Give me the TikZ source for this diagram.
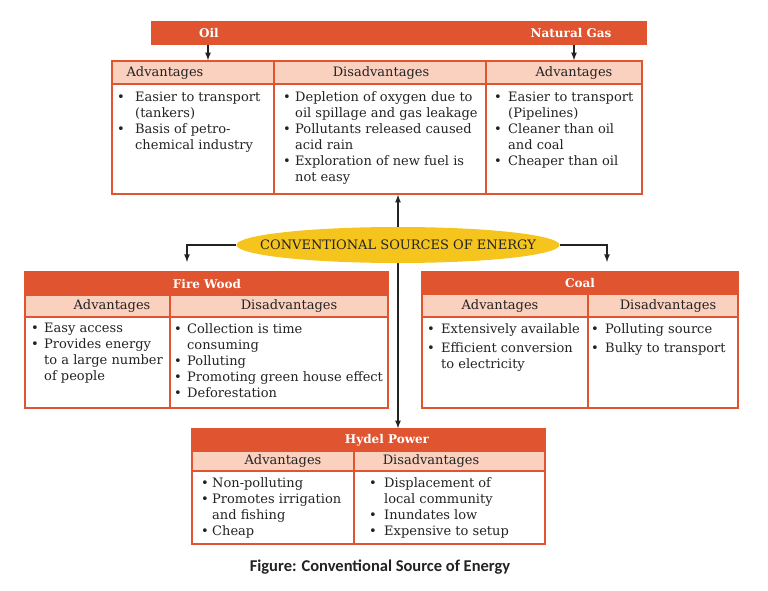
\documentclass[tikz,border=0pt]{standalone}
\usepackage{fontspec}
\setmainfont{DejaVu Serif}
\newfontfamily\capfont{Carlito}
\usepackage{tikz}
\usetikzlibrary{shapes.geometric}
\pgfdeclarelayer{edgelayer}
\pgfdeclarelayer{nodelayer}
\pgfsetlayers{edgelayer,nodelayer,main}
\definecolor{banner}{RGB}{224,84,48}
\definecolor{rowpink}{RGB}{250,208,190}
\definecolor{sunyellow}{RGB}{245,197,30}
\definecolor{ink}{RGB}{35,35,35}
\newlength{\bw}
\tikzstyle{none}=[inner sep=0pt]
\tikzstyle{title}=[rectangle, fill=banner, draw=banner, line width=1.5pt, inner sep=0pt]
\tikzstyle{head}=[rectangle, fill=rowpink, draw=banner, line width=1.5pt, inner sep=0pt]
\tikzstyle{cell}=[rectangle, fill=white, draw=banner, line width=1.5pt, inner sep=0pt]
\tikzstyle{titletext}=[inner sep=0pt, text=white, font=\fontsize{12}{14}\selectfont\bfseries]
\tikzstyle{headtext}=[inner sep=0pt, text=ink, font=\fontsize{13}{16}\selectfont]
\tikzstyle{body}=[inner sep=0pt, anchor=north west, align=left, text=ink, font=\fontsize{13}{16}\selectfont]
\tikzstyle{bulletgap}=[execute at begin node={\global\bw=#1}]
\tikzstyle{link}=[line width=1.6pt, draw=ink]
\newcommand{\itm}{\makebox[\bw][l]{\textbullet}}
\newcommand{\cnt}{\hspace*{\bw}}

\begin{document}
\begin{tikzpicture}[x=1pt, y=-1pt, >=latex]
    \useasboundingbox (0,0) rectangle (768,591);
    \begin{pgfonlayer}{nodelayer}
	% oil / natural gas
	\node [style=title, minimum width=494, minimum height=22] (0) at (399, 33) {};
	\node [style=titletext] (1) at (209, 33) {Oil};
	\node [style=titletext] (2) at (571, 33) {Natural Gas};
	\node [style=head, minimum width=162, minimum height=23] (3) at (193, 72.5) {};
	\node [style=head, minimum width=212, minimum height=23] (4) at (380, 72.5) {};
	\node [style=head, minimum width=156, minimum height=23] (5) at (564, 72.5) {};
	\node [style=cell, minimum width=162, minimum height=110] (6) at (193, 139) {};
	\node [style=cell, minimum width=212, minimum height=110] (7) at (380, 139) {};
	\node [style=cell, minimum width=156, minimum height=110] (8) at (564, 139) {};
	\node [style=headtext] (9) at (165, 73) {Advantages};
	\node [style=headtext] (10) at (381, 73) {Disadvantages};
	\node [style=headtext] (11) at (574, 73) {Advantages};
	\node [style=body, bulletgap=18pt] (12) at (117, 91.5) {\itm Easier to transport\\\cnt(tankers)\\\itm Basis of petro-\\\cnt chemical industry};
	\node [style=body, bulletgap=12pt] (13) at (283, 91.5) {\itm Depletion of oxygen due to\\\cnt oil spillage and gas leakage\\\itm Pollutants released caused\\\cnt acid rain\\\itm Exploration of new fuel is\\\cnt not easy};
	\node [style=body, bulletgap=14pt] (14) at (494, 91.5) {\itm Easier to transport\\\cnt(Pipelines)\\\itm Cleaner than oil\\\cnt and coal\\\itm Cheaper than oil};
	% centre
	\node [style=none, ellipse, fill=sunyellow, inner xsep=-25pt, inner ysep=6pt, minimum width=323, minimum height=36, text=ink, font=\fontsize{13}{16}\selectfont] (15) at (398, 245) {CONVENTIONAL SOURCES OF ENERGY};
	% fire wood
	\node [style=title, minimum width=363, minimum height=23] (16) at (206.5, 283.5) {};
	\node [style=titletext] (17) at (207, 284) {Fire Wood};
	\node [style=head, minimum width=145, minimum height=22] (18) at (97.5, 306) {};
	\node [style=head, minimum width=218, minimum height=22] (19) at (279, 306) {};
	\node [style=cell, minimum width=145, minimum height=91] (20) at (97.5, 362.5) {};
	\node [style=cell, minimum width=218, minimum height=91] (21) at (279, 362.5) {};
	\node [style=headtext] (22) at (112, 306) {Advantages};
	\node [style=headtext] (23) at (289, 306) {Disadvantages};
	\node [style=body, bulletgap=13pt] (24) at (31, 323) {\itm Easy access\\\itm Provides energy\\\cnt to a large number\\\cnt of people};
	\node [style=body, bulletgap=13pt] (25) at (174, 323) {\itm Collection is time\\\cnt consuming\\\itm Polluting\\\itm Promoting green house effect\\\itm Deforestation};
	% coal
	\node [style=title, minimum width=316, minimum height=22] (26) at (580, 283) {};
	\node [style=titletext] (27) at (580, 283.5) {Coal};
	\node [style=head, minimum width=166, minimum height=23] (28) at (505, 305.5) {};
	\node [style=head, minimum width=150, minimum height=23] (29) at (663, 305.5) {};
	\node [style=cell, minimum width=166, minimum height=91] (30) at (505, 362.5) {};
	\node [style=cell, minimum width=150, minimum height=91] (31) at (663, 362.5) {};
	\node [style=headtext] (32) at (500, 306) {Advantages};
	\node [style=headtext] (33) at (668, 306) {Disadvantages};
	\node [style=body, bulletgap=14pt] (34) at (427, 323) {\itm Extensively available\\[3pt]\itm Efficient conversion\\\cnt to electricity};
	\node [style=body, bulletgap=14pt] (35) at (591, 323) {\itm Polluting source\\[3pt]\itm Bulky to transport};
	% hydel power
	\node [style=title, minimum width=353, minimum height=22] (36) at (368.5, 440) {};
	\node [style=titletext] (37) at (387, 440.5) {Hydel Power};
	\node [style=head, minimum width=162, minimum height=20] (38) at (273, 461) {};
	\node [style=head, minimum width=191, minimum height=20] (39) at (449.5, 461) {};
	\node [style=cell, minimum width=162, minimum height=73] (40) at (273, 507.5) {};
	\node [style=cell, minimum width=191, minimum height=73] (41) at (449.5, 507.5) {};
	\node [style=headtext] (42) at (283, 461) {Advantages};
	\node [style=headtext] (43) at (431, 461) {Disadvantages};
	\node [style=body, bulletgap=11pt] (44) at (201, 477) {\itm Non-polluting\\\itm Promotes irrigation\\\cnt and fishing\\\itm Cheap};
	\node [style=body, bulletgap=15pt] (45) at (369, 477) {\itm Displacement of\\\cnt local community\\\itm Inundates low\\\itm Expensive to setup};
	% caption
	\node [style=none, text=ink, font=\capfont\fontsize{16.5}{19}\selectfont\bfseries] (46) at (380, 567) {Figure: Conventional Source of Energy};
	\coordinate (47) at (187, 262);
	\coordinate (48) at (607, 262);
    \end{pgfonlayer}
    \begin{pgfonlayer}{edgelayer}
	\draw [link, ->] (0.south -| 208, 0) to (3.north -| 208, 0);
	\draw [link, ->] (0.south -| 574, 0) to (5.north -| 574, 0);
	\draw [link, ->] (15.north) to (15.north |- 7.south);
	\draw [link, ->] (15.south) to (15.south |- 36.north);
	\draw [link, ->] (15.west) -| (47);
	\draw [link, ->] (15.east) -| (48);
    \end{pgfonlayer}
\end{tikzpicture}
\end{document}
